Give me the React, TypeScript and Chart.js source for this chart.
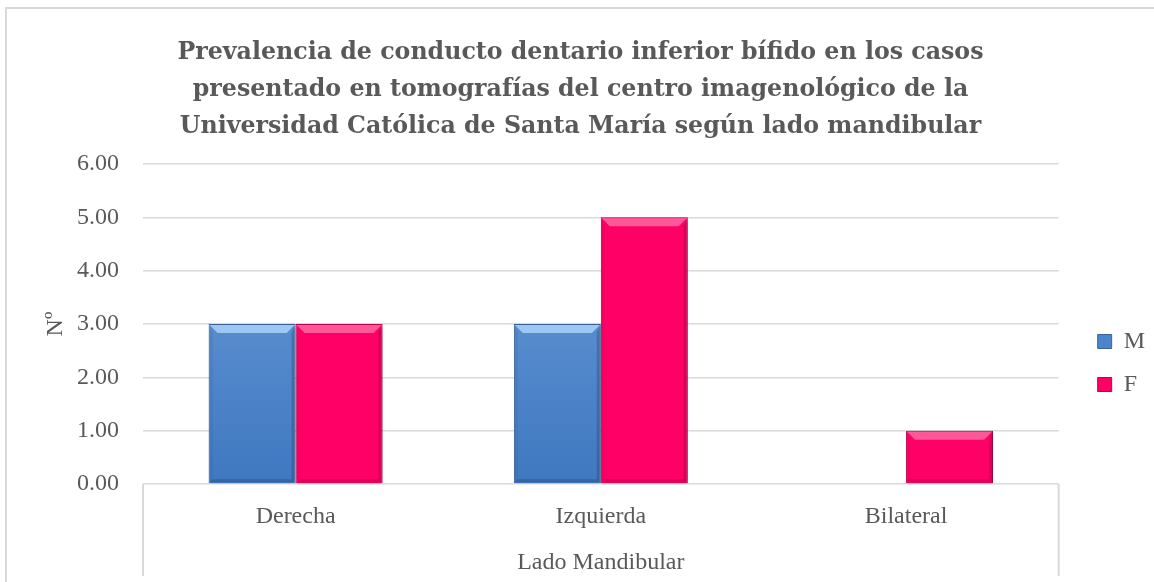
import React, { useEffect, useRef } from "react";
import { Chart, registerables } from "chart.js";

Chart.register(...registerables);

const TITLE_LINES = [
  "Prevalencia de conducto dentario inferior bífido en los casos",
  "presentado en tomografías del centro imagenológico de la",
  "Universidad Católica de Santa María según lado mandibular",
];
const CATEGORIES = ["Derecha", "Izquierda", "Bilateral"];
const SERIES_M = [3, 3, 0];
const SERIES_F = [3, 5, 1];
const SERIES_NAMES = ["M", "F"];
const Y_TITLE = "Nº";
const X_TITLE = "Lado Mandibular";
const Y_MIN = 0;
const Y_MAX = 6;
const Y_STEP = 1;

const FONT = "'Liberation Serif', 'Times New Roman', serif";
const TITLE_FONT = "'DejaVu Serif', 'Liberation Serif', serif";
const TEXT = "#595959";
const GRID = "#d9d9d9";

const LEGEND_DX = 20;
const LEGEND_DY = 72;
const TITLE_DX = 13;

function bluePaint(ctx: any) {
  const chart = ctx.chart;
  const a = chart.chartArea;
  if (!a) return "#4a84cb";
  const g = chart.ctx.createLinearGradient(0, a.top, 0, a.bottom);
  g.addColorStop(0, "#77a6de");
  g.addColorStop(0.45, "#5a8ed0");
  g.addColorStop(1, "#3f78c0");
  return g;
}

const pinkPaint = "#ff0066";

const shadowPlugin = {
  id: "barShadow",
  beforeDatasetsDraw(chart: any) {
    const c = chart.ctx;
    c.save();
    c.shadowColor = "rgba(0,0,0,0.35)";
    c.shadowBlur = 5;
    c.shadowOffsetX = 1.5;
    c.shadowOffsetY = 1.5;
  },
  afterDatasetsDraw(chart: any) {
    chart.ctx.restore();
    const c = chart.ctx;
    const b = 9;
    chart.data.datasets.forEach((ds: any, di: number) => {
      const meta = chart.getDatasetMeta(di);
      const light = di === 0 ? "rgba(175,215,252,0.8)" : "rgba(255,110,165,0.8)";
      const dark = di === 0 ? "rgba(25,55,100,0.3)" : "rgba(110,0,35,0.25)";
      const side = di === 0 ? "rgba(25,55,100,0.1)" : "rgba(110,0,35,0.08)";
      meta.data.forEach((el: any) => {
        const p = el.getProps(["x", "y", "base", "width"], true);
        const l = p.x - p.width / 2;
        const r = p.x + p.width / 2;
        const t = Math.min(p.y, p.base);
        const bt = Math.max(p.y, p.base);
        if (bt - t < 2) return;
        const bb = Math.min(b, (bt - t) / 2);
        c.save();
        c.fillStyle = light;
        c.beginPath();
        c.moveTo(l + 1, t + 1);
        c.lineTo(r - 1, t + 1);
        c.lineTo(r - bb, t + bb);
        c.lineTo(l + bb, t + bb);
        c.closePath();
        c.fill();
        c.fillStyle = side;
        c.beginPath();
        c.moveTo(l + 1, t + 1);
        c.lineTo(l + 4, t + bb);
        c.lineTo(l + 4, bt - 4);
        c.lineTo(l + 1, bt - 1);
        c.closePath();
        c.fill();
        c.fillStyle = dark;
        c.beginPath();
        c.moveTo(r - 1, t + 1);
        c.lineTo(r - 1, bt - 1);
        c.lineTo(r - 4, bt - 4);
        c.lineTo(r - 4, t + bb);
        c.closePath();
        c.fill();
        c.beginPath();
        c.moveTo(l + 1, bt - 1);
        c.lineTo(r - 1, bt - 1);
        c.lineTo(r - 4, bt - 4);
        c.lineTo(l + 4, bt - 4);
        c.closePath();
        c.fill();
        c.restore();
      });
    });
  },
};

const framePlugin = {
  id: "frame",
  afterLayout(chart: any) {
    const lg = chart.legend;
    if (lg) {
      lg.left += LEGEND_DX;
      lg.right += LEGEND_DX;
      lg.top += LEGEND_DY;
      lg.bottom += LEGEND_DY;
    }
    const tb = chart.titleBlock;
    if (tb) {
      tb.left += TITLE_DX;
      tb.right += TITLE_DX;
    }
  },
  beforeDraw(chart: any) {
    const c = chart.ctx;
    c.save();
    c.fillStyle = "#ffffff";
    c.fillRect(0, 0, chart.width, chart.height);
    c.strokeStyle = GRID;
    c.lineWidth = 2;
    c.beginPath();
    c.moveTo(6, chart.height);
    c.lineTo(6, 8);
    c.lineTo(chart.width, 8);
    c.stroke();
    c.restore();
  },
  afterDraw(chart: any) {
    const a = chart.chartArea;
    const c = chart.ctx;
    c.save();
    c.strokeStyle = GRID;
    c.lineWidth = 2;
    c.beginPath();
    c.moveTo(a.left, a.bottom);
    c.lineTo(a.left, chart.height - 6);
    c.moveTo(a.right, a.bottom);
    c.lineTo(a.right, chart.height - 6);
    c.stroke();
    c.restore();
  },
};

export default function App() {
  const ref = useRef<HTMLCanvasElement | null>(null);
  useEffect(() => {
    if (!ref.current) return;
    const chart = new Chart(ref.current, {
      type: "bar",
      data: {
        labels: CATEGORIES,
        datasets: [
          {
            label: SERIES_NAMES[0],
            data: SERIES_M,
            backgroundColor: bluePaint as any,
            borderColor: "#3a659c",
            borderWidth: ((ctx: any) => (ctx.raw === 0 ? 0 : 1)) as any,
            categoryPercentage: 0.57,
            barPercentage: 1,
          },
          {
            label: SERIES_NAMES[1],
            data: SERIES_F,
            backgroundColor: pinkPaint,
            borderColor: "#c0004e",
            borderWidth: ((ctx: any) => (ctx.raw === 0 ? 0 : 1)) as any,
            categoryPercentage: 0.57,
            barPercentage: 1,
          },
        ],
      },
      options: {
        responsive: false,
        animation: false,
        devicePixelRatio: 1,
        layout: { padding: { left: 0, right: 19, top: 0, bottom: 0 } },
        plugins: {
          tooltip: { enabled: false },
          title: {
            display: true,
            text: TITLE_LINES,
            color: TEXT,
            font: { family: TITLE_FONT, size: 23.7, weight: "bold", lineHeight: 37 / 23.7 },
            padding: { top: 34, bottom: 19 },
          },
          legend: {
            display: true,
            position: "right",
            align: "center",
            labels: {
              color: TEXT,
              font: { family: FONT, size: 24 },
              boxWidth: 14,
              boxHeight: 14,
              padding: 19,
              generateLabels: (ch: any) =>
                ch.data.datasets.map((ds: any, i: number) => ({
                  text: ds.label,
                  fillStyle: i === 0 ? "#4a84cb" : "#ff0066",
                  strokeStyle: i === 0 ? "#3a659c" : "#c0004e",
                  lineWidth: 1,
                  fontColor: TEXT,
                  hidden: false,
                  datasetIndex: i,
                })),
            },
          },
        },
        scales: {
          x: {
            grid: { display: false, drawTicks: false },
            border: { display: false },
            ticks: { color: TEXT, font: { family: FONT, size: 24 }, padding: 18 },
            title: {
              display: true,
              text: X_TITLE,
              color: TEXT,
              font: { family: FONT, size: 24 },
              padding: { top: 4, bottom: 5 },
            },
            afterFit: (s: any) => {
              s.height = 98;
            },
          },
          y: {
            min: Y_MIN,
            max: Y_MAX,
            grid: { color: GRID, lineWidth: 1.5, drawTicks: false },
            border: { display: false },
            ticks: {
              stepSize: Y_STEP,
              color: TEXT,
              font: { family: FONT, size: 24 },
              padding: 24,
              callback: (v: any) => Number(v).toFixed(2),
            },
            title: {
              display: true,
              text: Y_TITLE,
              color: TEXT,
              font: { family: FONT, size: 24 },
              padding: { top: 41, bottom: 0 },
            },
            afterFit: (s: any) => {
              s.width = 143;
            },
          },
        },
      },
      plugins: [shadowPlugin, framePlugin],
    });
    return () => chart.destroy();
  }, []);
  return (
    <div style={{ position: "fixed", left: 0, top: 0, width: 1154, height: 582, background: "#fff" }}>
      <canvas ref={ref} width={1154} height={582} />
    </div>
  );
}
